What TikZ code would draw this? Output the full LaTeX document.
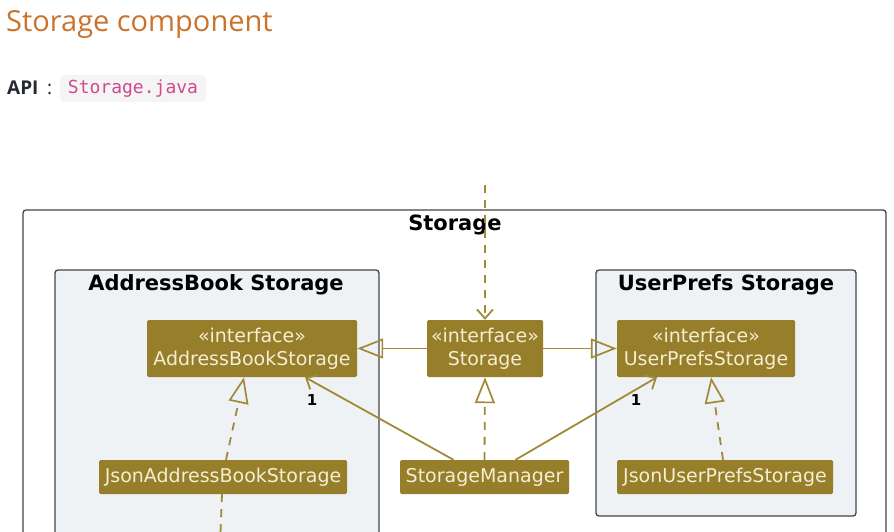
\documentclass[tikz,border=0pt]{standalone}
\usepackage{fontspec}
\setmainfont{DejaVu Sans}
\newfontfamily\titlefont{Open Sans}
\newfontfamily\codefont{DejaVu Sans Mono}
\usetikzlibrary{arrows.meta,calc}
\definecolor{nodefill}{HTML}{967E2A}
\definecolor{linecol}{HTML}{A08A38}
\definecolor{nodetext}{HTML}{F4EED2}
\definecolor{pkgfill}{HTML}{EEF2F4}
\definecolor{pkgline}{HTML}{454545}
\definecolor{titlecol}{HTML}{C9732C}
\definecolor{codecol}{HTML}{D14A8C}
\definecolor{codebg}{HTML}{F5F5F6}
\definecolor{apicol}{HTML}{24292F}
\tikzset{
  cls/.style={fill=nodefill, draw=none, rounded corners=1.5pt, text=nodetext,
    font=\fontsize{19}{23}\selectfont, align=center, inner sep=0pt},
  pkg/.style={fill=pkgfill, draw=pkgline, line width=1.3pt, rounded corners=3pt},
  pkgtitle/.style={font=\bfseries\fontsize{21}{24}\selectfont, text=black, inner sep=0pt},
  gen/.style={draw=linecol, line width=1.8pt, -{Triangle[open, length=26pt, width=20pt, line width=1.7pt]}},
  real/.style={gen, dash pattern=on 8pt off 7pt},
  assoc/.style={draw=linecol, line width=1.8pt, -{Straight Barb[length=9pt, width=16pt, line width=1.8pt]}},
  mult/.style={font=\bfseries\fontsize{15}{17}\selectfont, text=black, inner sep=0pt}
}
\begin{document}
\begin{tikzpicture}[x=1pt,y=-1pt]
\useasboundingbox (0,0) rectangle (894,532);
\clip (0,0) rectangle (894,532);
% header
\node[anchor=base west, inner sep=0pt, text=titlecol, font=\titlefont\fontsize{29}{32}\selectfont] (title) at (6,32) {Storage component};
\node[anchor=base west, inner sep=0pt, text=apicol, font=\titlefont\bfseries\fontsize{19}{22}\selectfont] (api) at (7,95) {API};
\node[anchor=base west, inner sep=0pt, text=apicol, font=\titlefont\fontsize{19}{22}\selectfont] (colon) at (47,95) {:};
\node[fill=codebg, rounded corners=4pt, minimum width=146pt, minimum height=27pt, inner sep=0pt, text=codecol, font=\codefont\fontsize{18}{21}\selectfont] (code) at (133,88.5) {Storage.java};
% packages
\draw[pkgline, fill=white, line width=1.3pt, rounded corners=3pt] (23,210) rectangle (886,560);
\node[pkgtitle] (outertitle) at (455,225) {Storage};
\draw[pkg] (55,270) rectangle (379,560);
\node[pkgtitle] (abtitle) at (216,285) {AddressBook Storage};
\draw[pkg] (596,270) rectangle (856,516);
\node[pkgtitle] (uptitle) at (726,285) {UserPrefs Storage};
% classes
\node[cls, minimum width=210pt, minimum height=57pt] (abs) at (252,348.5) {«interface»\\AddressBookStorage};
\node[cls, minimum width=116pt, minimum height=57pt] (st) at (485,348.5) {«interface»\\Storage};
\node[cls, minimum width=178pt, minimum height=57pt] (ups) at (706,348.5) {«interface»\\UserPrefsStorage};
\node[cls, minimum width=248pt, minimum height=34pt] (jabs) at (223,477) {JsonAddressBookStorage};
\node[cls, minimum width=169pt, minimum height=34pt] (sm) at (484.5,477) {StorageManager};
\node[cls, minimum width=216pt, minimum height=34pt] (jups) at (725,477) {JsonUserPrefsStorage};
% free ends
\coordinate (topend) at (485,185);
\coordinate (botend) at (220,545);
% connectors
\draw[assoc, dash pattern=on 8pt off 7pt] (topend) -- (st.north);
\draw[gen] (st.west) -- (abs.east);
\draw[gen] (st.east) -- (ups.west);
\draw[real] ([xshift=3pt]jabs.north) -- ([xshift=-8pt]abs.south);
\draw[real] (sm.north) -- (st.south);
\draw[real] ([xshift=-2pt]jups.north) -- ([xshift=5pt]ups.south);
\draw[assoc] ([xshift=-31pt]sm.north) -- ([xshift=53pt]abs.south);
\draw[assoc] ([xshift=31pt]sm.north) -- ([xshift=-49pt]ups.south);
\draw[draw=linecol, line width=1.8pt, dash pattern=on 8pt off 7pt] ([xshift=-1pt]jabs.south) -- (botend);
\node[mult] (m1) at (312,400) {1};
\node[mult] (m2) at (636,400) {1};
\end{tikzpicture}
\end{document}
